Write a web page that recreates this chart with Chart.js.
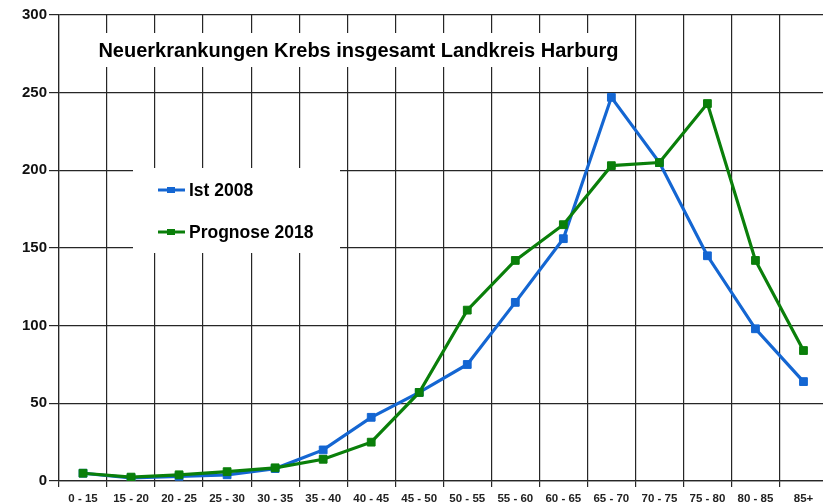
<!DOCTYPE html>
<html>
<head>
<meta charset="utf-8">
<script src="https://cdn.jsdelivr.net/npm/chart.js@4/dist/chart.umd.min.js"></script>
<style>
  html, body { margin: 0; padding: 0; background: #fff; }
  #wrap { width: 823px; height: 504px; overflow: hidden; }
</style>
</head>
<body>
<div id="wrap"><canvas id="chart" width="834" height="504"></canvas></div>
<script>
const ageGroups = ["0 - 15", "15 - 20", "20 - 25", "25 - 30", "30 - 35", "35 - 40", "40 - 45", "45 - 50",
    "50 - 55", "55 - 60", "60 - 65", "65 - 70", "70 - 75", "75 - 80", "80 - 85", "85+"];
const ist2008 = [5, 2, 3, 4, 8, 20, 41, 57, 75, 115, 156, 247, 205, 145, 98, 64];
const prognose2018 = [5, 2.5, 4, 6, 8.5, 14, 25, 57, 110, 142, 165, 203, 205, 243, 142, 84];
const titleText = "Neuerkrankungen Krebs insgesamt Landkreis Harburg";
const legendLabels = ["Ist 2008", "Prognose 2018"];

const blue = "#1466d2";
const green = "#0a7f0a";
const gridColor = "#262626";

// title and legend sit on white boxes inside the plot
const insideBoxes = {
    id: "insideBoxes",
    beforeDatasetsDraw(chart) {
        const ctx = chart.ctx;
        ctx.save();
        ctx.fillStyle = "#fff";
        ctx.fillRect(95, 33, 527, 34);
        ctx.fillRect(133, 168, 207, 85);

        ctx.fillStyle = "#000";
        ctx.font = 'bold 20px "Liberation Sans", Arial, sans-serif';
        ctx.textAlign = "center";
        ctx.textBaseline = "alphabetic";
        ctx.fillText(titleText, 358.5, 57);

        const rows = [[legendLabels[0], blue, 190], [legendLabels[1], green, 232]];
        ctx.font = 'bold 17.5px "Liberation Sans", Arial, sans-serif';
        ctx.textAlign = "left";
        ctx.textBaseline = "middle";
        rows.forEach(([label, color, y]) => {
            ctx.strokeStyle = color;
            ctx.lineWidth = 3;
            ctx.beginPath();
            ctx.moveTo(158, y);
            ctx.lineTo(185, y);
            ctx.stroke();
            ctx.fillStyle = color;
            ctx.fillRect(167, y - 3, 8, 6);
            ctx.fillStyle = "#000";
            ctx.fillText(label, 189, y + 1);
        });
        ctx.restore();
    }
};

new Chart(document.getElementById("chart"), {
    type: "line",
    data: {
        labels: ageGroups,
        datasets: [
            {
                label: legendLabels[0],
                data: ist2008,
                borderColor: blue,
                backgroundColor: blue,
                pointBackgroundColor: blue,
                pointBorderColor: blue,
                borderWidth: 3.2,
                pointStyle: "rect",
                pointRadius: 5.5,
                pointBorderWidth: 1,
                tension: 0,
                fill: false,
                order: 2,
            },
            {
                label: legendLabels[1],
                data: prognose2018,
                borderColor: green,
                backgroundColor: green,
                pointBackgroundColor: green,
                pointBorderColor: green,
                borderWidth: 3.2,
                pointStyle: "rect",
                pointRadius: 5.5,
                pointBorderWidth: 1,
                tension: 0,
                fill: false,
                order: 1,
            },
        ],
    },
    options: {
        responsive: false,
        animation: false,
        layout: { padding: { top: 15, right: 4, left: 0, bottom: 0 } },
        plugins: {
            legend: { display: false },
            title: { display: false },
            tooltip: { enabled: false },
        },
        scales: {
            x: {
                offset: true,
                grid: { offset: true, color: gridColor, lineWidth: 1.2, tickLength: 6 },
                border: { color: gridColor, width: 1.2 },
                ticks: {
                    color: "#222",
                    font: { family: '"Liberation Sans", Arial, sans-serif', size: 11.5, weight: "bold" },
                    padding: 5,
                    maxRotation: 0,
                    autoSkip: false,
                },
                afterFit: (s) => { s.height = 23; },
            },
            y: {
                min: 0,
                max: 300,
                grid: { color: gridColor, lineWidth: 1.2, tickLength: 10 },
                border: { color: gridColor, width: 1.2 },
                ticks: {
                    stepSize: 50,
                    color: "#111",
                    font: { family: '"Liberation Sans", Arial, sans-serif', size: 15, weight: "bold" },
                    padding: 2,
                },
                afterFit: (s) => { s.width = 59; },
            },
        },
    },
    plugins: [insideBoxes],
});
</script>
</body>
</html>
